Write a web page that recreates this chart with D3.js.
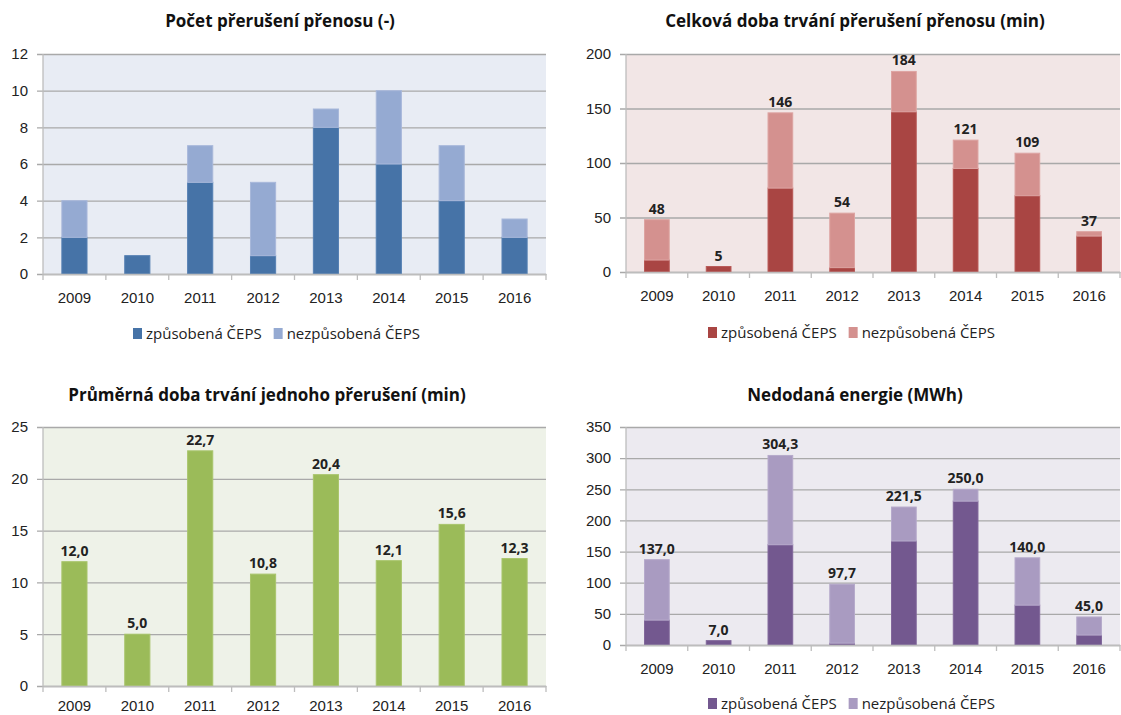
<!DOCTYPE html>
<html><head><meta charset="utf-8">
<script src="https://cdn.jsdelivr.net/npm/d3@7"></script>
<style>
html,body{margin:0;padding:0;background:#fff;}
svg{display:block;font-family:"Open Sans",sans-serif;}
</style></head>
<body><svg id="c" width="1121" height="715"></svg>
<script>
const years = ["2009","2010","2011","2012","2013","2014","2015","2016"];
const seriesNames = ["způsobená ČEPS","nezpůsobená ČEPS"];

// Počet přerušení přenosu (-)
const countCaused    = [2,1,5,1,8,6,4,2];
const countNotCaused = [2,0,2,4,1,4,3,1];
const countTicks     = [0,2,4,6,8,10,12];

// Celková doba trvání přerušení přenosu (min)
const durCaused    = [11,5,77,4,147,95,70,33];
const durNotCaused = [37,0,69,50,37,26,39,4];
const durTotals    = [48,5,146,54,184,121,109,37];
const durTicks     = [0,50,100,150,200];

// Průměrná doba trvání jednoho přerušení (min)
const avgValues = [12.0,5.0,22.7,10.8,20.4,12.1,15.6,12.3];
const avgTicks  = [0,5,10,15,20,25];

// Nedodaná energie (MWh)
const enCaused    = [40,7,161,3,167,231,64,16];
const enNotCaused = [97,0,143.3,94.7,54.5,19,76,29];
const enTotals    = [137.0,7.0,304.3,97.7,221.5,250.0,140.0,45.0];
const enTicks     = [0,50,100,150,200,250,300,350];

const svg = d3.select("#c");
const fmt1 = v => d3.format(".1f")(v).replace(".", ",");
const fmt0 = v => d3.format("d")(v);

function panel(o){
  const g = svg.append("g");
  const x = d3.scaleBand().domain(years).range([o.x0, o.x1]).paddingInner(0.6).paddingOuter(0.3);
  const y = d3.scaleLinear().domain([0, o.max]).range([o.y1, o.y0]);
  g.append("rect").attr("x", o.x0).attr("y", o.y0).attr("width", o.x1 - o.x0).attr("height", o.y1 - o.y0).attr("fill", o.bg);
  const ya = d3.axisLeft(y).tickValues(o.ticks).tickSize(o.x1 - o.x0 + 6).tickPadding(9);
  const yg = g.append("g").attr("transform", `translate(${o.x1},0)`).call(ya);
  yg.select(".domain").remove();
  yg.selectAll(".tick line").attr("stroke", "#a9a9a9").attr("stroke-width", 1.3);
  yg.selectAll(".tick text").attr("font-size", 15).attr("fill", "#222");
  g.append("line").attr("x1", o.x0).attr("x2", o.x0).attr("y1", o.y0).attr("y2", o.y1).attr("stroke", "#bdbdbd").attr("stroke-width", 1.3);
  const stacks = o.series.map((s, si) => s.map((v, i) => {
    const base = o.series.slice(0, si).reduce((a, ss) => a + ss[i], 0);
    return {i, v, base, si};
  }));
  stacks.forEach((st, si) => {
    g.append("g").selectAll("rect").data(st.filter(d => d.v > 0)).join("rect")
      .attr("x", d => x(years[d.i]))
      .attr("width", x.bandwidth())
      .attr("y", d => y(d.base + d.v))
      .attr("height", d => y(d.base) - y(d.base + d.v))
      .attr("fill", o.colors[si])
      .attr("stroke", o.strokes[si]).attr("stroke-width", 1);
  });
  const xa = d3.axisBottom(x).tickSize(0).tickPadding(o.xpad || 18);
  const xg = g.append("g").attr("transform", `translate(0,${o.y1})`).call(xa);
  xg.select(".domain").attr("stroke", "#bdbdbd").attr("stroke-width", 1.3);
  xg.selectAll(".tick text").attr("font-size", 15).attr("fill", "#222");
  g.append("g").selectAll("line").data(d3.range(years.length + 1)).join("line")
    .attr("x1", i => o.x0 + i * x.step()).attr("x2", i => o.x0 + i * x.step())
    .attr("y1", o.y1).attr("y2", o.y1 + 6).attr("stroke", "#bdbdbd").attr("stroke-width", 1.3);
  if (o.labels) {
    g.append("g").selectAll("text").data(o.labels).join("text")
      .attr("x", (d, i) => x(years[i]) + x.bandwidth() / 2)
      .attr("y", d => y(d) - 6)
      .attr("text-anchor", "middle").attr("font-size", 14).attr("font-weight", 700).attr("fill", "#222")
      .text(d => o.fmt(d));
  }
  g.append("text").attr("x", o.tx).attr("y", o.ty).attr("text-anchor", "middle")
    .attr("font-size", 17).attr("font-weight", 700).attr("fill", "#111").text(o.title);
  if (o.legend) {
    const lg = g.append("g").attr("transform", `translate(${o.legend[0]},${o.legend[1]})`);
    let lx = 0;
    seriesNames.forEach((n, si) => {
      lg.append("rect").attr("x", lx).attr("y", -11).attr("width", 9).attr("height", 11).attr("fill", o.colors[si]);
      const t = lg.append("text").attr("x", lx + 13).attr("y", 0).attr("font-size", 15).attr("fill", "#222").text(n);
      lx += 13 + t.node().getComputedTextLength() + 12;
    });
  }
}

panel({x0: 43, x1: 546, y0: 54, y1: 274, max: 12, ticks: countTicks, bg: "#e8ecf4",
  series: [countCaused, countNotCaused], colors: ["#4673a7", "#95aad2"], strokes: ["#5580b3", "#a8b8da"],
  title: "Počet přerušení přenosu (-)", tx: 280, ty: 27, legend: [133, 339]});

panel({x0: 626, x1: 1120, y0: 54, y1: 272, max: 200, ticks: durTicks, bg: "#f2e6e6",
  series: [durCaused, durNotCaused], colors: ["#a94543", "#d4918f"], strokes: ["#b85856", "#dda4a2"],
  labels: durTotals, fmt: fmt0,
  title: "Celková doba trvání přerušení přenosu (min)", tx: 855, ty: 27, legend: [708, 338]});

panel({x0: 43, x1: 546, y0: 427, y1: 686, max: 25, ticks: avgTicks, bg: "#eef2e8",
  series: [avgValues], colors: ["#9bbb59"], strokes: ["#a9c56c"],
  labels: avgValues, fmt: fmt1, xpad: 14,
  title: "Průměrná doba trvání jednoho přerušení (min)", tx: 267, ty: 401});

panel({x0: 626, x1: 1120, y0: 427, y1: 645, max: 350, ticks: enTicks, bg: "#eceaf0",
  series: [enCaused, enNotCaused], colors: ["#73588f", "#a99bc1"], strokes: ["#81689b", "#b6aacb"],
  labels: enTotals, fmt: fmt1,
  title: "Nedodaná energie (MWh)", tx: 855, ty: 401, legend: [708, 709]});
</script></body></html>
